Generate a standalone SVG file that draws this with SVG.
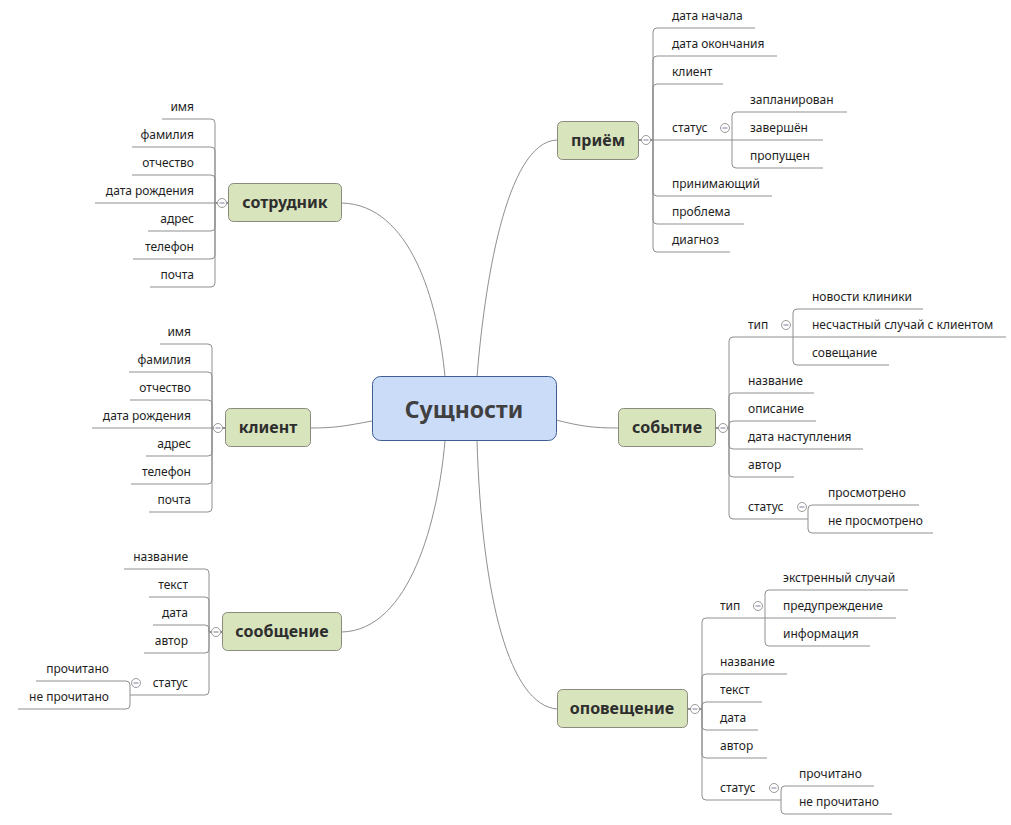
<svg xmlns="http://www.w3.org/2000/svg" xmlns:xlink="http://www.w3.org/1999/xlink" width="1011" height="825" viewBox="0 0 1011 825">
<defs>
<style>
.bg{fill:#ffffff}
.ln{fill:none;stroke:#8f8f8f;stroke-width:1}
.main{fill:#d8e4bc;stroke:#8a8a7e;stroke-width:1}
.root{fill:#cbdcf9;stroke:#3f5f94;stroke-width:1}
.mt{font-family:"Noto Sans","Open Sans",sans-serif;font-size:16px;font-weight:bold;fill:#2e2e2e;text-anchor:middle}
.rt{font-family:"Noto Sans","Open Sans",sans-serif;font-size:23px;font-weight:bold;fill:#404040;text-anchor:middle}
.lf{font-family:"Noto Sans","Open Sans",sans-serif;font-size:12px;fill:#1e1e1e}
.r{text-anchor:end}
.cc{fill:#ffffff;stroke:#9a9a9a;stroke-width:1}
.cm{stroke:#7c7c9c;stroke-width:1}
</style>
<g id="minus"><circle class="cc" cx="0" cy="0" r="4.5"/><line class="cm" x1="-2.5" y1="0" x2="2.5" y2="0"/></g>
</defs>
<rect class="bg" x="0" y="0" width="1011" height="825"/>

<g id="connectors">
<path class="ln" d="M445 377 C438 300 410 205 342 203"/>
<path class="ln" d="M477 377 C484 290 505 142 557 140"/>
<path class="ln" d="M372 421 C345 426 335 428 311 428"/>
<path class="ln" d="M556 420 C580 426 592 428 618 428"/>
<path class="ln" d="M445 441 C438 520 410 630 342 632"/>
<path class="ln" d="M477 441 C482 600 510 705 557 709"/>

<path class="ln" d="M639 140 H653 V32 Q653 28 657 28 H755"/>
<path class="ln" d="M639 140 H653 V60 Q653 56 657 56 H777"/>
<path class="ln" d="M639 140 H653 V88 Q653 84 657 84 H723"/>
<path class="ln" d="M639 140 H732"/>
<path class="ln" d="M639 140 H653 V192 Q653 196 657 196 H772"/>
<path class="ln" d="M639 140 H653 V220 Q653 224 657 224 H744"/>
<path class="ln" d="M639 140 H653 V248 Q653 252 657 252 H730"/>
<path class="ln" d="M732 140 V116 Q732 112 736 112 H847"/>
<path class="ln" d="M732 140 H823"/>
<path class="ln" d="M732 140 V164 Q732 168 736 168 H823"/>

<path class="ln" d="M716 428 H729 V341 Q729 337 733 337 H793"/>
<path class="ln" d="M716 428 H729 V397 Q729 393 733 393 H814"/>
<path class="ln" d="M716 428 H729 V425 Q729 421 733 421 H816"/>
<path class="ln" d="M716 428 H729 V445 Q729 449 733 449 H863"/>
<path class="ln" d="M716 428 H729 V473 Q729 477 733 477 H794"/>
<path class="ln" d="M716 428 H729 V515 Q729 519 733 519 H808"/>
<path class="ln" d="M793 337 V313 Q793 309 797 309 H923"/>
<path class="ln" d="M793 337 H1006"/>
<path class="ln" d="M793 337 V361 Q793 365 797 365 H889"/>
<path class="ln" d="M808 519 V509 Q808 505 812 505 H919"/>
<path class="ln" d="M808 519 V529 Q808 533 812 533 H933"/>

<path class="ln" d="M688 709 H702 V622 Q702 618 706 618 H765"/>
<path class="ln" d="M688 709 H702 V678 Q702 674 706 674 H787"/>
<path class="ln" d="M688 709 H702 V706 Q702 702 706 702 H762"/>
<path class="ln" d="M688 709 H702 V726 Q702 730 706 730 H758"/>
<path class="ln" d="M688 709 H702 V754 Q702 758 706 758 H767"/>
<path class="ln" d="M688 709 H702 V796 Q702 800 706 800 H781"/>
<path class="ln" d="M765 618 V594 Q765 590 769 590 H908"/>
<path class="ln" d="M765 618 H896"/>
<path class="ln" d="M765 618 V642 Q765 646 769 646 H870"/>
<path class="ln" d="M781 800 V790 Q781 786 785 786 H874"/>
<path class="ln" d="M781 800 V810 Q781 814 785 814 H892"/>

<path class="ln" d="M228 203 H215 V123 Q215 119 211 119 H162"/>
<path class="ln" d="M228 203 H215 V151 Q215 147 211 147 H132"/>
<path class="ln" d="M228 203 H215 V179 Q215 175 211 175 H132"/>
<path class="ln" d="M228 203 H95"/>
<path class="ln" d="M228 203 H215 V227 Q215 231 211 231 H148"/>
<path class="ln" d="M228 203 H215 V255 Q215 259 211 259 H133"/>
<path class="ln" d="M228 203 H215 V283 Q215 287 211 287 H150"/>

<path class="ln" d="M225 428 H212 V348 Q212 344 208 344 H160"/>
<path class="ln" d="M225 428 H212 V376 Q212 372 208 372 H129"/>
<path class="ln" d="M225 428 H212 V404 Q212 400 208 400 H130"/>
<path class="ln" d="M225 428 H92"/>
<path class="ln" d="M225 428 H212 V452 Q212 456 208 456 H146"/>
<path class="ln" d="M225 428 H212 V480 Q212 484 208 484 H131"/>
<path class="ln" d="M225 428 H212 V508 Q212 512 208 512 H149"/>

<path class="ln" d="M222 632 H209 V573 Q209 569 205 569 H124"/>
<path class="ln" d="M222 632 H209 V601 Q209 597 205 597 H149"/>
<path class="ln" d="M222 632 H209 V629 Q209 625 205 625 H153"/>
<path class="ln" d="M222 632 H209 V649 Q209 653 205 653 H144"/>
<path class="ln" d="M222 632 H209 V691 Q209 695 205 695 H130"/>
<path class="ln" d="M130 695 V685 Q130 681 126 681 H36"/>
<path class="ln" d="M130 695 V705 Q130 709 126 709 H18"/>
</g>

<g id="root">
<rect class="root" x="372.5" y="376.5" width="184" height="64" rx="8"/>
<text class="rt" x="464" y="418">Сущности</text>
</g>

<g id="node-priem">
<rect class="main" x="557.5" y="121.5" width="81" height="38" rx="5"/>
<text class="mt" x="598" y="146">приём</text>
<use xlink:href="#minus" x="646" y="140"/>
</g>
<g id="node-sobytie">
<rect class="main" x="618.5" y="408.5" width="97" height="38" rx="5"/>
<text class="mt" x="667" y="433">событие</text>
<use xlink:href="#minus" x="723" y="428"/>
</g>
<g id="node-opoveshchenie">
<rect class="main" x="557.5" y="689.5" width="130" height="38" rx="5"/>
<text class="mt" x="622" y="714">оповещение</text>
<use xlink:href="#minus" x="695" y="709"/>
</g>
<g id="node-sotrudnik">
<rect class="main" x="228.5" y="183.5" width="113" height="38" rx="5"/>
<text class="mt" x="285" y="208">сотрудник</text>
<use xlink:href="#minus" x="222" y="203"/>
</g>
<g id="node-klient">
<rect class="main" x="225.5" y="408.5" width="85" height="38" rx="5"/>
<text class="mt" x="268" y="433">клиент</text>
<use xlink:href="#minus" x="218" y="428"/>
</g>
<g id="node-soobshchenie">
<rect class="main" x="222.5" y="612.5" width="119" height="38" rx="5"/>
<text class="mt" x="282" y="637">сообщение</text>
<use xlink:href="#minus" x="216" y="632"/>
</g>

<g id="priem-items">
<text class="lf" x="672" y="20">дата начала</text>
<text class="lf" x="672" y="48">дата окончания</text>
<text class="lf" x="672" y="76">клиент</text>
<g id="priem-status"><text class="lf" x="672" y="132">статус</text><use xlink:href="#minus" x="725" y="128"/></g>
<text class="lf" x="750" y="104">запланирован</text>
<text class="lf" x="750" y="132">завершён</text>
<text class="lf" x="750" y="160">пропущен</text>
<text class="lf" x="672" y="188">принимающий</text>
<text class="lf" x="672" y="216">проблема</text>
<text class="lf" x="672" y="244">диагноз</text>
</g>

<g id="sobytie-items">
<g id="sobytie-tip"><text class="lf" x="748" y="329">тип</text><use xlink:href="#minus" x="786" y="325"/></g>
<text class="lf" x="812" y="301">новости клиники</text>
<text class="lf" x="812" y="329">несчастный случай с клиентом</text>
<text class="lf" x="812" y="357">совещание</text>
<text class="lf" x="748" y="385">название</text>
<text class="lf" x="748" y="413">описание</text>
<text class="lf" x="748" y="441">дата наступления</text>
<text class="lf" x="748" y="469">автор</text>
<g id="sobytie-status"><text class="lf" x="748" y="511">статус</text><use xlink:href="#minus" x="802" y="507"/></g>
<text class="lf" x="828" y="497">просмотрено</text>
<text class="lf" x="828" y="525">не просмотрено</text>
</g>

<g id="opoveshchenie-items">
<g id="opov-tip"><text class="lf" x="720" y="610">тип</text><use xlink:href="#minus" x="758" y="606"/></g>
<text class="lf" x="783" y="582">экстренный случай</text>
<text class="lf" x="783" y="610">предупреждение</text>
<text class="lf" x="783" y="638">информация</text>
<text class="lf" x="720" y="666">название</text>
<text class="lf" x="720" y="694">текст</text>
<text class="lf" x="720" y="722">дата</text>
<text class="lf" x="720" y="750">автор</text>
<g id="opov-status"><text class="lf" x="720" y="792">статус</text><use xlink:href="#minus" x="774" y="788"/></g>
<text class="lf" x="799" y="778">прочитано</text>
<text class="lf" x="799" y="806">не прочитано</text>
</g>

<g id="sotrudnik-items">
<text class="lf r" x="194" y="111">имя</text>
<text class="lf r" x="194" y="139">фамилия</text>
<text class="lf r" x="194" y="167">отчество</text>
<text class="lf r" x="194" y="195">дата рождения</text>
<text class="lf r" x="194" y="223">адрес</text>
<text class="lf r" x="194" y="251">телефон</text>
<text class="lf r" x="194" y="279">почта</text>
</g>

<g id="klient-items">
<text class="lf r" x="191" y="336">имя</text>
<text class="lf r" x="191" y="364">фамилия</text>
<text class="lf r" x="191" y="392">отчество</text>
<text class="lf r" x="191" y="420">дата рождения</text>
<text class="lf r" x="191" y="448">адрес</text>
<text class="lf r" x="191" y="476">телефон</text>
<text class="lf r" x="191" y="504">почта</text>
</g>

<g id="soobshchenie-items">
<text class="lf r" x="188" y="561">название</text>
<text class="lf r" x="188" y="589">текст</text>
<text class="lf r" x="188" y="617">дата</text>
<text class="lf r" x="188" y="645">автор</text>
<g id="soob-status"><text class="lf r" x="188" y="687">статус</text><use xlink:href="#minus" x="136" y="683"/></g>
<text class="lf r" x="109" y="673">прочитано</text>
<text class="lf r" x="109" y="701">не прочитано</text>
</g>
</svg>
